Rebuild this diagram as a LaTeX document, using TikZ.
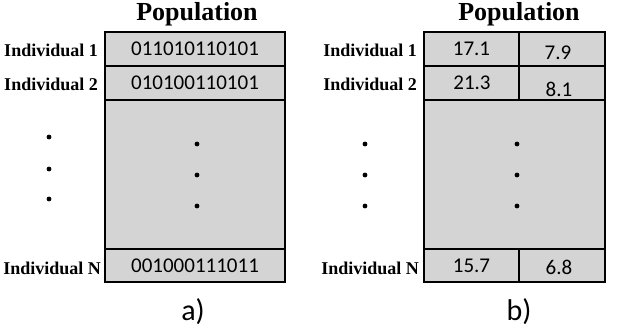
\documentclass[tikz,border=0pt]{standalone}
\usepackage{fontspec}
\setmainfont{Liberation Serif}
\newfontfamily\calfont{Carlito}
\definecolor{boxgray}{RGB}{212,212,212}
\begin{document}
\begin{tikzpicture}[x=1pt,y=-1pt,
  cell/.style={draw=black, fill=boxgray, line width=2.4pt, rectangle, inner sep=0pt, anchor=center,
    font=\calfont\fontsize{21}{21}\selectfont},
  lbl/.style={anchor=east, inner sep=0pt, font=\bfseries\fontsize{18}{18}\selectfont},
  ttl/.style={inner sep=0pt, font=\bfseries\fontsize{26}{26}\selectfont},
  captxt/.style={inner sep=0pt, font=\calfont\fontsize{30}{30}\selectfont},
  valtxt/.style={inner sep=0pt, font=\calfont\fontsize{21}{21}\selectfont},
  dotf/.style={fill=black}]
\useasboundingbox (0,0) rectangle (630,328);
% ---------- panel a ----------
\node[ttl] (ta) at (197,14) {Population};
\node[cell, minimum width=180pt, minimum height=149pt] (amid) at (195,174.5) {};
\node[cell, minimum width=180pt, minimum height=34pt] (a1) at (195,49) {011010110101};
\node[cell, minimum width=180pt, minimum height=34pt] (a2) at (195,83) {010100110101};
\node[cell, minimum width=180pt, minimum height=33pt] (aN) at (195,265.5) {001000111011};
\node[lbl] (la1) at (98,50) {Individual 1};
\node[lbl] (la2) at (98,84) {Individual 2};
\node[lbl] (laN) at (101,268) {Individual N};
\foreach \y in {137,169,199} \fill[dotf] (49,\y) circle (2.4pt);
\foreach \y in {144,175,206} \fill[dotf] (197,\y) circle (2.4pt);
\node[captxt] (ca) at (193,312) {a)};
% ---------- panel b ----------
\node[ttl] (tb) at (519,14) {Population};
\node[cell, minimum width=181pt, minimum height=149pt] (bmid) at (514.5,174.5) {};
\node[cell, minimum width=95pt, minimum height=34pt] (b11) at (471.5,49) {17.1};
\node[cell, minimum width=86pt, minimum height=34pt] (b12) at (562,49) {};
\node[cell, minimum width=95pt, minimum height=34pt] (b21) at (471.5,83) {};
\node[cell, minimum width=86pt, minimum height=34pt] (b22) at (562,83) {};
\node[cell, minimum width=95pt, minimum height=33pt] (bN1) at (471.5,265.5) {15.7};
\node[cell, minimum width=86pt, minimum height=33pt] (bN2) at (562,265.5) {};
\node[valtxt] (v12) at (558,53) {7.9};
\node[valtxt] (v21) at (472,83) {21.3};
\node[valtxt] (v22) at (559,89) {8.1};
\node[valtxt] (vN2) at (559,267) {6.8};
\node[lbl] (lb1) at (417,50) {Individual 1};
\node[lbl] (lb2) at (417,84) {Individual 2};
\node[lbl] (lbN) at (419,268) {Individual N};
\foreach \y in {144,175,206} \fill[dotf] (365,\y) circle (2.4pt);
\foreach \y in {144,175,206} \fill[dotf] (517,\y) circle (2.4pt);
\node[captxt] (cb) at (519,312) {b)};
\end{tikzpicture}
\end{document}
